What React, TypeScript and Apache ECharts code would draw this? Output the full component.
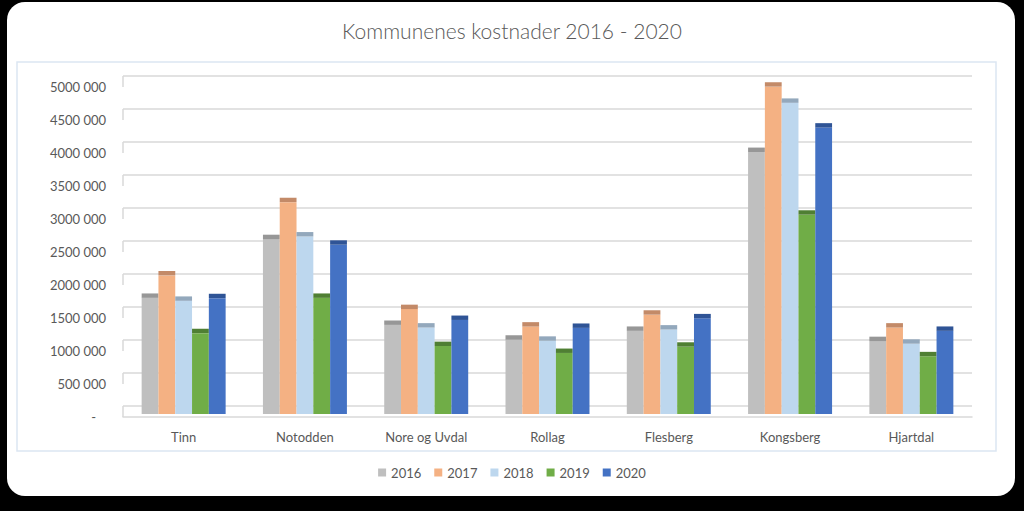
import React, { useEffect, useRef } from "react";
import * as echarts from "echarts";

const categories = ["Tinn", "Notodden", "Nore og Uvdal", "Rollag", "Flesberg", "Kongsberg", "Hjartdal"];
const years = ["2016", "2017", "2018", "2019", "2020"];
const v2016 = [1760000, 2650000, 1350000, 1125000, 1260000, 3970000, 1105000];
const v2017 = [2100000, 3210000, 1590000, 1325000, 1505000, 4960000, 1310000];
const v2018 = [1715000, 2690000, 1310000, 1110000, 1280000, 4715000, 1065000];
const v2019 = [1225000, 1760000, 1030000, 925000, 1020000, 3020000, 875000];
const v2020 = [1755000, 2565000, 1425000, 1305000, 1450000, 4340000, 1260000];
const yTicks = [0, 500000, 1000000, 1500000, 2000000, 2500000, 3000000, 3500000, 4000000, 4500000, 5000000];

const seriesValues = [v2016, v2017, v2018, v2019, v2020];
const colors = ["#BFBFBF", "#F4B183", "#BDD7EE", "#70AD47", "#4472C4"];
const capColors = ["#979797", "#C38A68", "#93A8BC", "#4F7F33", "#2F5496"];

const FONT = "Lato, 'Open Sans', sans-serif";
const TXT = "#595959";
const GRIDC = "#d9d9d9";

function fmt(v: number): string {
  if (v === 0) return "-\u00a0\u00a0\u00a0";
  const s = String(v);
  return s.slice(0, -3) + " " + s.slice(-3);
}

export default function App() {
  const ref = useRef<HTMLDivElement>(null);
  useEffect(() => {
    if (!ref.current) return;
    const chart = echarts.init(ref.current, undefined, { renderer: "svg" });
    const gridBase = { left: 123, width: 849, height: 330 };
    const barSeries = years.map((yr, i) => ({
      type: "custom",
      name: yr,
      xAxisIndex: 2,
      yAxisIndex: 2,
      itemStyle: { color: colors[i] },
      encode: { x: 0, y: 1 },
      data: categories.map((_, j) => [j, seriesValues[i][j]]),
      renderItem: (params: any, api: any) => {
        const j = api.value(0);
        const val = api.value(1);
        const top = api.coord([j, val]);
        const base = api.coord([j, 0]);
        const band = api.size([1, 0])[0];
        const w = (band * 0.6925) / 5;
        const x = top[0] - 2.5 * w + i * w;
        const cap = 4.4;
        return {
          type: "group",
          children: [
            { type: "rect", shape: { x, y: top[1], width: w, height: base[1] - top[1] }, style: { fill: colors[i] } },
            { type: "rect", shape: { x, y: top[1] - cap, width: w, height: cap }, style: { fill: capColors[i] } },
          ],
        };
      },
    }));
    const option: any = {
      animation: false,
      title: {
        text: "Kommunenes kostnader 2016 - 2020",
        left: "center",
        top: 15,
        textStyle: { fontFamily: FONT, fontSize: 21, fontWeight: 300, color: TXT },
      },
      graphic: [
        {
          type: "rect",
          shape: { x: 17, y: 62, width: 979, height: 389 },
          style: { fill: "none", stroke: "#DCE6F2", lineWidth: 1.5 },
          silent: true,
          z: -1,
        },
      ],
      legend: {
        data: years.map((y) => ({ name: y, icon: "rect" })),
        bottom: 27,
        left: "center",
        itemWidth: 8,
        itemHeight: 8,
        itemGap: 13,
        textStyle: { fontFamily: FONT, fontSize: 13, color: TXT },
      },
      grid: [
        { ...gridBase, top: 76 },
        { ...gridBase, top: 87 },
        { ...gridBase, top: 84 },
      ],
      xAxis: [
        { type: "category", gridIndex: 0, data: categories, show: false },
        {
          type: "category",
          gridIndex: 1,
          data: categories,
          axisLine: { show: true, lineStyle: { color: GRIDC, width: 1.5 } },
          axisTick: { show: false },
          axisLabel: { margin: 13, fontFamily: FONT, fontSize: 13, color: TXT },
        },
        { type: "category", gridIndex: 2, data: categories, show: false },
      ],
      yAxis: [
        {
          type: "value",
          gridIndex: 0,
          min: 0,
          max: 5000000,
          interval: 500000,
          axisLabel: { show: false },
          axisLine: { show: false },
          axisTick: { show: false },
          splitLine: { show: true, lineStyle: { color: GRIDC, width: 1.5 } },
        },
        {
          type: "value",
          gridIndex: 1,
          min: 0,
          max: 5000000,
          interval: 500000,
          axisLine: { show: false },
          axisTick: { show: false },
          splitLine: { show: false },
          axisLabel: { margin: 17, fontFamily: FONT, fontSize: 13, color: TXT, formatter: (v: number) => fmt(v) },
        },
        {
          type: "value",
          gridIndex: 2,
          min: 0,
          max: 5000000,
          interval: 500000,
          show: false,
          splitLine: { show: false },
        },
      ],
      series: [
        {
          type: "custom",
          name: "wallTicks",
          xAxisIndex: 0,
          yAxisIndex: 0,
          silent: true,
          encode: { x: 0, y: 1 },
          data: yTicks.map((v) => [0, v]),
          renderItem: (params: any, api: any) => {
            const p = api.coord([0, api.value(1)]);
            const x = params.coordSys.x;
            return {
              type: "line",
              shape: { x1: x, y1: p[1], x2: x, y2: p[1] + 11 },
              style: { stroke: GRIDC, lineWidth: 1.5 },
            };
          },
        },
        ...barSeries,
      ],
    };
    chart.setOption(option);
    return () => chart.dispose();
  }, []);

  return (
    <div style={{ position: "fixed", left: 0, top: 0, width: 1024, height: 511, background: "#000" }}>
      <div
        style={{
          position: "absolute",
          left: 7,
          top: 2,
          width: 1008,
          height: 494,
          background: "#fff",
          borderRadius: 18,
        }}
      />
      <div ref={ref} style={{ position: "absolute", left: 0, top: 0, width: 1024, height: 511 }} />
    </div>
  );
}
